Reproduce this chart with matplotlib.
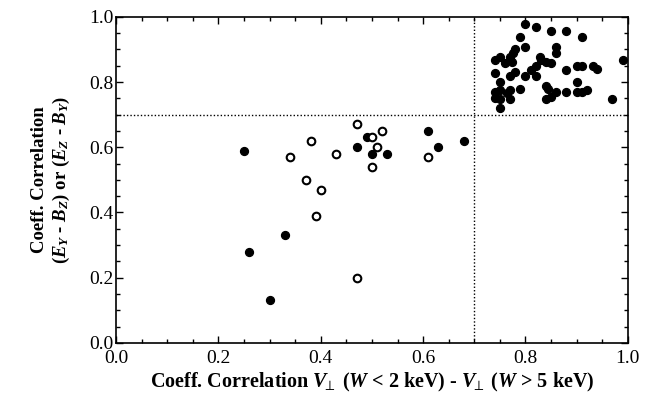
import matplotlib
matplotlib.use("Agg")
import matplotlib.pyplot as plt
from matplotlib.ticker import MultipleLocator

plt.rcParams['font.family'] = 'Liberation Serif'
plt.rcParams['mathtext.fontset'] = 'custom'
plt.rcParams['mathtext.rm'] = 'Liberation Serif:bold'
plt.rcParams['mathtext.it'] = 'Liberation Serif:bold:italic'
plt.rcParams['mathtext.bf'] = 'Liberation Serif:bold'

# filled circles
filled_x = [0.80, 0.82, 0.85, 0.88, 0.91, 0.79, 0.80, 0.86, 0.86, 0.78, 0.775,
            0.77, 0.75, 0.74, 0.76, 0.773, 0.828, 0.83, 0.84, 0.85, 0.99,
            0.74, 0.78, 0.77, 0.81, 0.82, 0.80, 0.82, 0.88, 0.90, 0.91, 0.932,
            0.94, 0.75, 0.90, 0.74, 0.75, 0.77, 0.763, 0.79, 0.84, 0.845,
            0.86, 0.88, 0.90, 0.91, 0.92, 0.74, 0.75, 0.77, 0.84, 0.85, 0.97,
            0.75,
            0.25, 0.47, 0.49, 0.50, 0.53, 0.61, 0.63, 0.68, 0.33, 0.26, 0.30]
filled_y = [0.978, 0.968, 0.958, 0.958, 0.938, 0.939, 0.909, 0.909, 0.889, 0.90, 0.89,
            0.878, 0.878, 0.868, 0.858, 0.863, 0.878, 0.868, 0.86, 0.858, 0.868,
            0.829, 0.83, 0.82, 0.837, 0.848, 0.82, 0.82, 0.837, 0.848, 0.848, 0.848,
            0.84, 0.80, 0.80, 0.77, 0.776, 0.776, 0.766, 0.778, 0.788, 0.78,
            0.77, 0.77, 0.77, 0.77, 0.776, 0.75, 0.747, 0.747, 0.747, 0.755, 0.747,
            0.72,
            0.59, 0.60, 0.63, 0.58, 0.58, 0.65, 0.60, 0.62, 0.33, 0.28, 0.13]

# open circles
open_x = [0.34, 0.38, 0.371, 0.40, 0.43, 0.47, 0.50, 0.52, 0.51, 0.50, 0.61, 0.39, 0.47]
open_y = [0.57, 0.62, 0.50, 0.47, 0.58, 0.67, 0.63, 0.65, 0.60, 0.54, 0.57, 0.39, 0.20]

threshold = 0.7

fig = plt.figure(figsize=(6.56, 4.01), dpi=100)
ax = fig.add_axes([0.177, 0.145, 0.78, 0.813])

ax.plot([0, 1], [threshold, threshold], color='black', linestyle=(0, (1, 1.5)), lw=1.0)
ax.plot([threshold, threshold], [0, 1], color='black', linestyle=(0, (1, 1.5)), lw=1.0)

ax.scatter(filled_x, filled_y, s=32, color='black', zorder=3)
ax.scatter(open_x, open_y, s=30, facecolor='white', edgecolor='black', linewidths=1.5, zorder=3)

ax.set_xlim(0, 1)
ax.set_ylim(0, 1)
ax.xaxis.set_major_locator(MultipleLocator(0.2))
ax.xaxis.set_minor_locator(MultipleLocator(0.05))
ax.yaxis.set_major_locator(MultipleLocator(0.2))
ax.yaxis.set_minor_locator(MultipleLocator(0.05))
ax.xaxis.set_major_formatter(lambda v, p: f"{v:.1f}")
ax.yaxis.set_major_formatter(lambda v, p: f"{v:.1f}")
ax.tick_params(which='both', direction='in', top=True, right=True, labelsize=14, width=1)
ax.tick_params(which='major', length=5)
ax.tick_params(which='minor', length=3)
ax.tick_params(axis='x', which='major', pad=5)
ax.tick_params(axis='y', which='major', pad=2)
for lbl in ax.get_yticklabels():
    lbl.set_verticalalignment('center_baseline')
for sp in ax.spines.values():
    sp.set_linewidth(1.2)

ax.set_xlabel(r'Coeff. Correlation $\mathit{V}_{\!\!\perp}$ ($\mathit{W}$ < 2 keV) - $\mathit{V}_{\!\!\perp}$ ($\mathit{W}$ > 5 keV)',
              fontsize=14.5, fontweight='bold', labelpad=3)
ax.set_ylabel('Coeff. Correlation\n' + r'($\mathit{E}_{\mathit{Y}}$ - $\mathit{B}_{\mathit{Z}}$) or ($\mathit{E}_{\mathit{Z}}$ - $\mathit{B}_{\mathit{Y}}$)',
              fontsize=13.5, fontweight='bold', labelpad=12, linespacing=1.2)

fig.savefig('out.png', dpi=100)
